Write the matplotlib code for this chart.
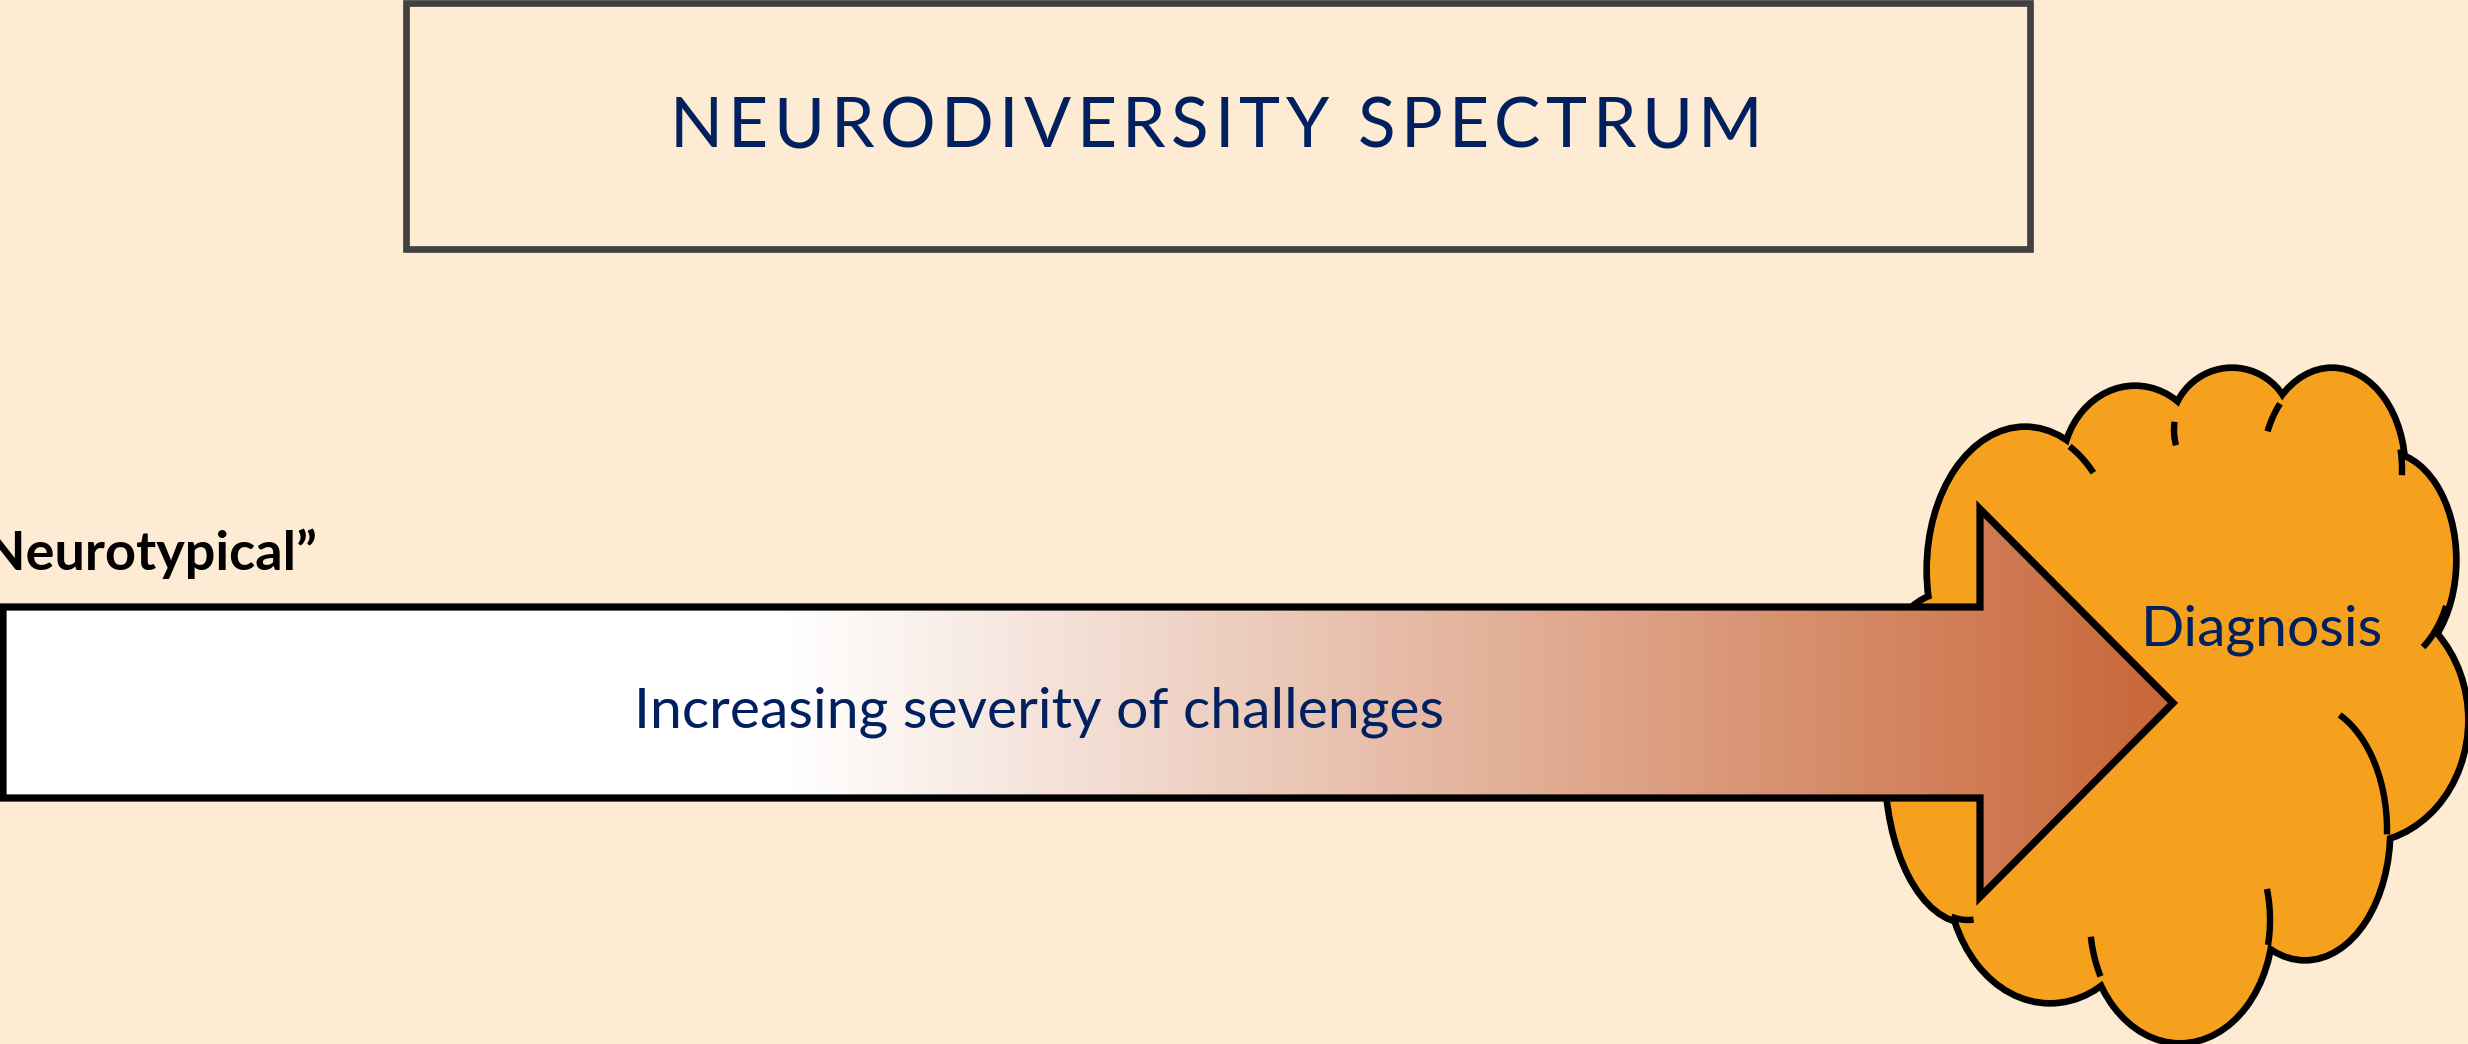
import numpy as np
import matplotlib.pyplot as plt
from matplotlib.patches import Rectangle, Ellipse, Polygon

W, H = 2468, 1044

title = "NEURODIVERSITY SPECTRUM"
arrow_label = "Increasing severity of challenges"
left_label = "\u201cNeurotypical\u201d"
cloud_label = "Diagnosis"

bg = "#FDEBD3"
navy = "#002060"
orange = "#F5A11E"
arrow_end = np.array([200, 102, 56]) / 255.0

# cloud lobes (centre x, centre y, half width, half height), y grows downward
lobe_cx = [2025, 2135, 2232, 2332, 2385, 2360, 2305, 2180, 2050, 1968, 1950]
lobe_cy = [570, 470, 430, 470, 560, 720, 830, 920, 870, 765, 680]
lobe_rx = [95, 70, 58, 70, 68, 105, 82, 90, 100, 80, 65]
lobe_ry = [140, 81, 59, 99, 105, 120, 127, 120, 130, 155, 85]
# little inner arcs of the cloud: lobe index, start angle, end angle
tail_lobe = [0, 2, 3, 3, 4, 6, 7, 7, 9]
tail_t1 = [-62, 165, 203, -12, 26, -65, -15, 152, 86]
tail_t2 = [-44, 188, 222, 3, 56, 2, 12, 172, 102]

# arrow outline
shaft_top, shaft_bot = 607, 798
head_x, head_top, head_bot = 1980, 509, 897
tip_x, tip_y = 2173, 703
fade_start = 790

fig = plt.figure(figsize=(W / 100, H / 100), dpi=100, facecolor=bg)
ax = fig.add_axes([0, 0, 1, 1])
ax.set_xlim(0, W)
ax.set_ylim(H, 0)
ax.axis("off")
ax.set_facecolor(bg)
renderer = fig.canvas.get_renderer()


def text_width(s, **kw):
    t = ax.text(0, 0, s, **kw)
    w = t.get_window_extent(renderer).width
    t.remove()
    return w


def spaced_text(xc, y, s, extra, **kw):
    # draw s centred on xc with extra tracking between letters
    bar = text_width("|", **kw)
    pos = [0.0] + [text_width(s[:i] + "|", **kw) - bar
                   for i in range(1, len(s))]
    total = text_width(s, **kw) + extra * (len(s) - 1)
    x0 = xc - total / 2
    for i, ch in enumerate(s):
        if ch != " ":
            ax.text(x0 + pos[i] + extra * i, y, ch, ha="left",
                    va="baseline", **kw)


# title box
ax.add_patch(Rectangle((406, 3), 1624, 246, fill=False, edgecolor="#404040",
                       lw=4.8, zorder=2))
spaced_text(1216, 147, title, 5.5, fontsize=50, family="Lato", color=navy,
            zorder=5)

# cloud: outline pass, then fill pass to hide inner edges
for cx, cy, rx, ry in zip(lobe_cx, lobe_cy, lobe_rx, lobe_ry):
    ax.add_patch(Ellipse((cx, cy), 2 * rx, 2 * ry, fill=False,
                         edgecolor="black", lw=9.6, zorder=2))
for cx, cy, rx, ry in zip(lobe_cx, lobe_cy, lobe_rx, lobe_ry):
    ax.add_patch(Ellipse((cx, cy), 2 * rx, 2 * ry, facecolor=orange,
                         edgecolor="none", zorder=3))
ax.add_patch(Polygon(list(zip(lobe_cx, lobe_cy)), closed=True,
                     facecolor=orange, edgecolor="none", zorder=3))
for i, t1, t2 in zip(tail_lobe, tail_t1, tail_t2):
    t = np.radians(np.linspace(t1, t2, 40))
    ax.plot(lobe_cx[i] + lobe_rx[i] * np.cos(t),
            lobe_cy[i] + lobe_ry[i] * np.sin(t),
            color="black", lw=4.6, solid_capstyle="butt", zorder=4)

# gradient arrow
verts = [(3, shaft_top), (head_x, shaft_top), (head_x, head_top),
         (tip_x, tip_y), (head_x, head_bot), (head_x, shaft_bot),
         (3, shaft_bot)]
arrow = Polygon(verts, closed=True, facecolor="none", edgecolor="black",
                lw=5.2, joinstyle="miter", zorder=7)
xs = np.linspace(0, tip_x, 800)
frac = np.clip((xs - fade_start) / (tip_x - fade_start), 0, 1)
grad = (1 - frac)[:, None] * np.ones(3) + frac[:, None] * arrow_end
img = ax.imshow(grad[None, :, :], extent=(0, tip_x, head_bot, head_top),
                aspect="auto", interpolation="bilinear", zorder=6)
clip = Polygon(verts, closed=True, transform=ax.transData)
img.set_clip_path(clip)
ax.add_patch(arrow)
ax.set_xlim(0, W)
ax.set_ylim(H, 0)

ax.text(1039, 727, arrow_label, ha="center", va="baseline", fontsize=41,
        family="Lato", color=navy, zorder=8)
ax.text(2262, 645, cloud_label, ha="center", va="baseline", fontsize=41,
        family="Lato", color=navy, zorder=8)
ax.text(318, 570, left_label, ha="right", va="baseline", fontsize=39,
        family="Lato", weight="bold", color="black", zorder=8)

fig.savefig("out.png", dpi=100, facecolor=bg)
